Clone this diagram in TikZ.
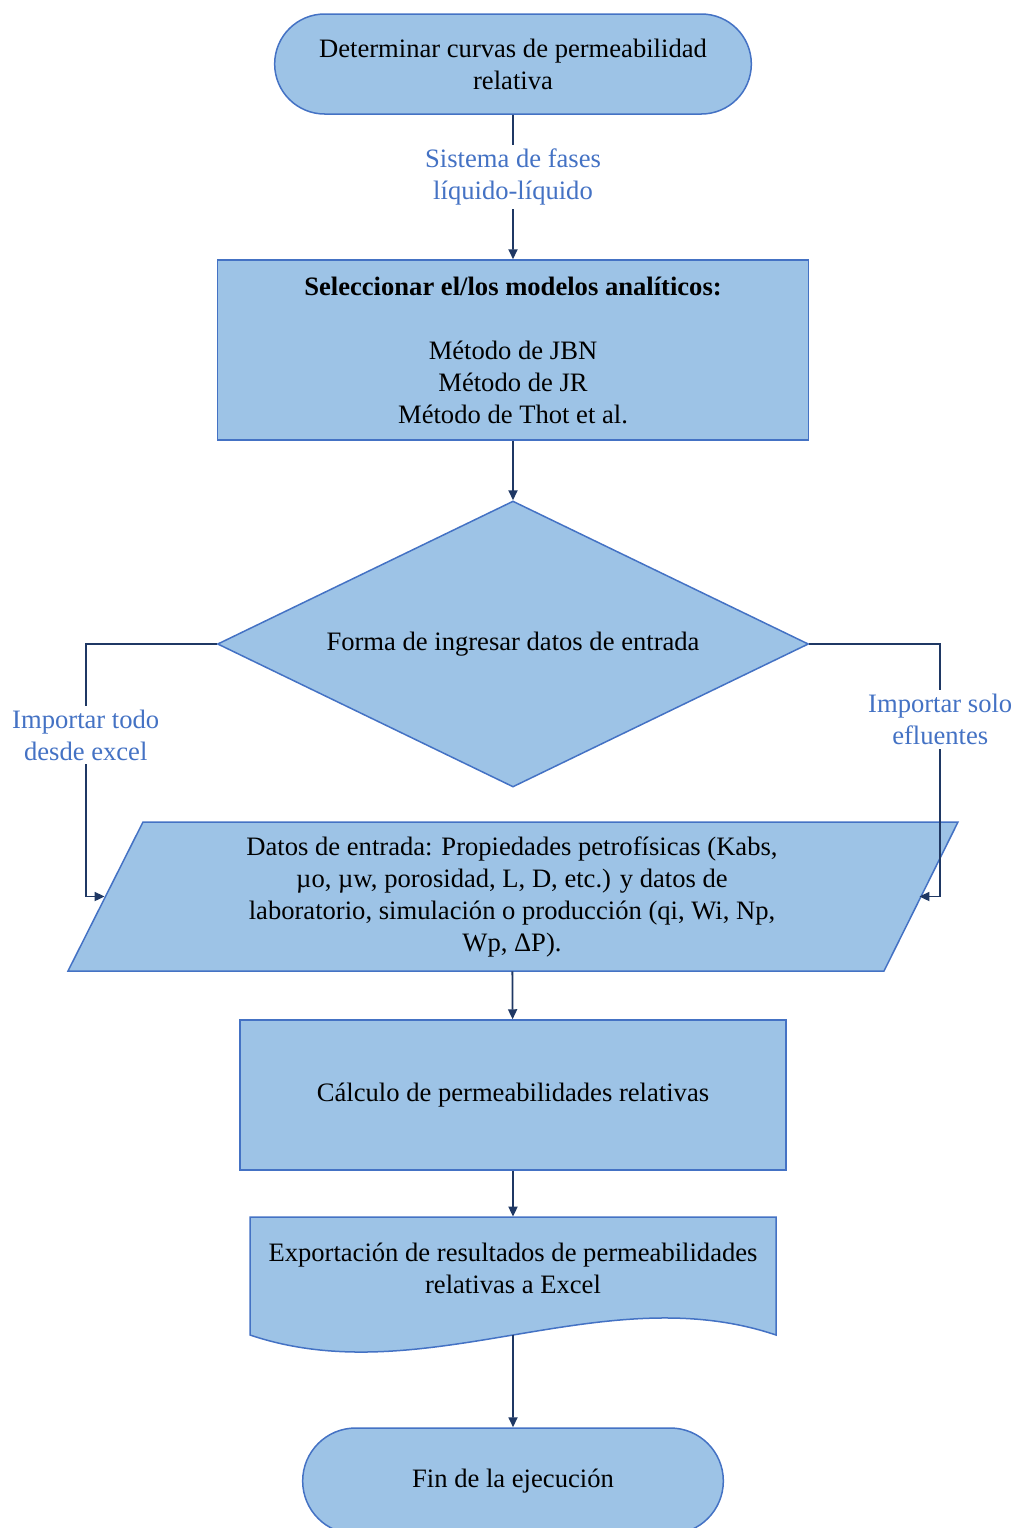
\documentclass[tikz,border=0pt]{standalone}
\usepackage{fontspec}
\setmainfont{Liberation Serif}
\usetikzlibrary{shapes.geometric,shapes.misc,arrows.meta}
\definecolor{relleno}{RGB}{157,195,230}
\definecolor{borde}{RGB}{68,114,196}
\definecolor{flecha}{RGB}{31,56,100}
\definecolor{etiq}{RGB}{68,114,196}
\tikzset{
  caja/.style={draw=borde,fill=relleno,line width=0.75pt,align=center},
  term/.style={caja,rounded rectangle},
  flujo/.style={draw=flecha,line width=0.9pt,-{Triangle[length=5pt,width=4.5pt]}},
  etiqueta/.style={text=etiq,fill=white,align=center,inner sep=2pt}
}
\begin{document}
\begin{tikzpicture}[x=0.5pt,y=-0.5pt,font=\fontsize{13.3}{16}\selectfont]
\useasboundingbox (0,0) rectangle (1015,1528);
\node[term,minimum width=245pt,minimum height=50pt] (ini) at (513,64) {Determinar curvas de permeabilidad\\relativa};
\node[caja,minimum width=295.5pt,minimum height=90pt] (sel) at (513,350) {\textbf{Seleccionar el/los modelos analíticos:}\\[16pt]Método de JBN\\Método de JR\\Método de Thot et al.};
\node[caja,diamond,aspect=2.07,minimum width=295.5pt,minimum height=143pt] (dec) at (513,644) {Forma de ingresar datos de entrada};
\draw[caja] (143,822) -- (958,822) -- (884,971) -- (68,971) -- cycle;
\node[align=center,minimum width=407pt,minimum height=74.5pt] (dat) at (512,896.5) {Datos de entrada: Propiedades petrofísicas (Kabs,\\µo, µw, porosidad, L, D, etc.) y datos de\\laboratorio, simulación o producción (qi, Wi, Np,\\Wp, ΔP).};
\node[caja,minimum width=273pt,minimum height=75pt] (cal) at (513,1095) {Cálculo de permeabilidades relativas};
\draw[caja] (250,1217) -- (776,1217) -- (776,1335) .. controls (601,1276) and (425,1394) .. (250,1335) -- cycle;
\node[align=center,minimum height=51pt] (exp) at (513,1268) {Exportación de resultados de permeabilidades\\relativas a Excel};
\coordinate (wav) at (513,1335);
\node[term,minimum width=217pt,minimum height=53pt] (fin) at (513,1481) {Fin de la ejecución};
\draw[flujo] (ini) -- node[etiqueta,pos=0.43]{Sistema de fases\\líquido-líquido} (sel);
\draw[flujo] (sel) -- (dec);
\draw[flujo] (dec.west) -- ++(-131,0) |- node[etiqueta,pos=0.18]{Importar todo\\desde excel} (dat.west);
\draw[flujo] (dec.east) -- ++(131,0) |- node[etiqueta,pos=0.15]{Importar solo\\efluentes} (dat.east);
\draw[flujo] (dat) -- (cal);
\draw[flujo] (cal) -- (exp);
\draw[flujo] (wav) -- (fin);
\end{tikzpicture}
\end{document}
